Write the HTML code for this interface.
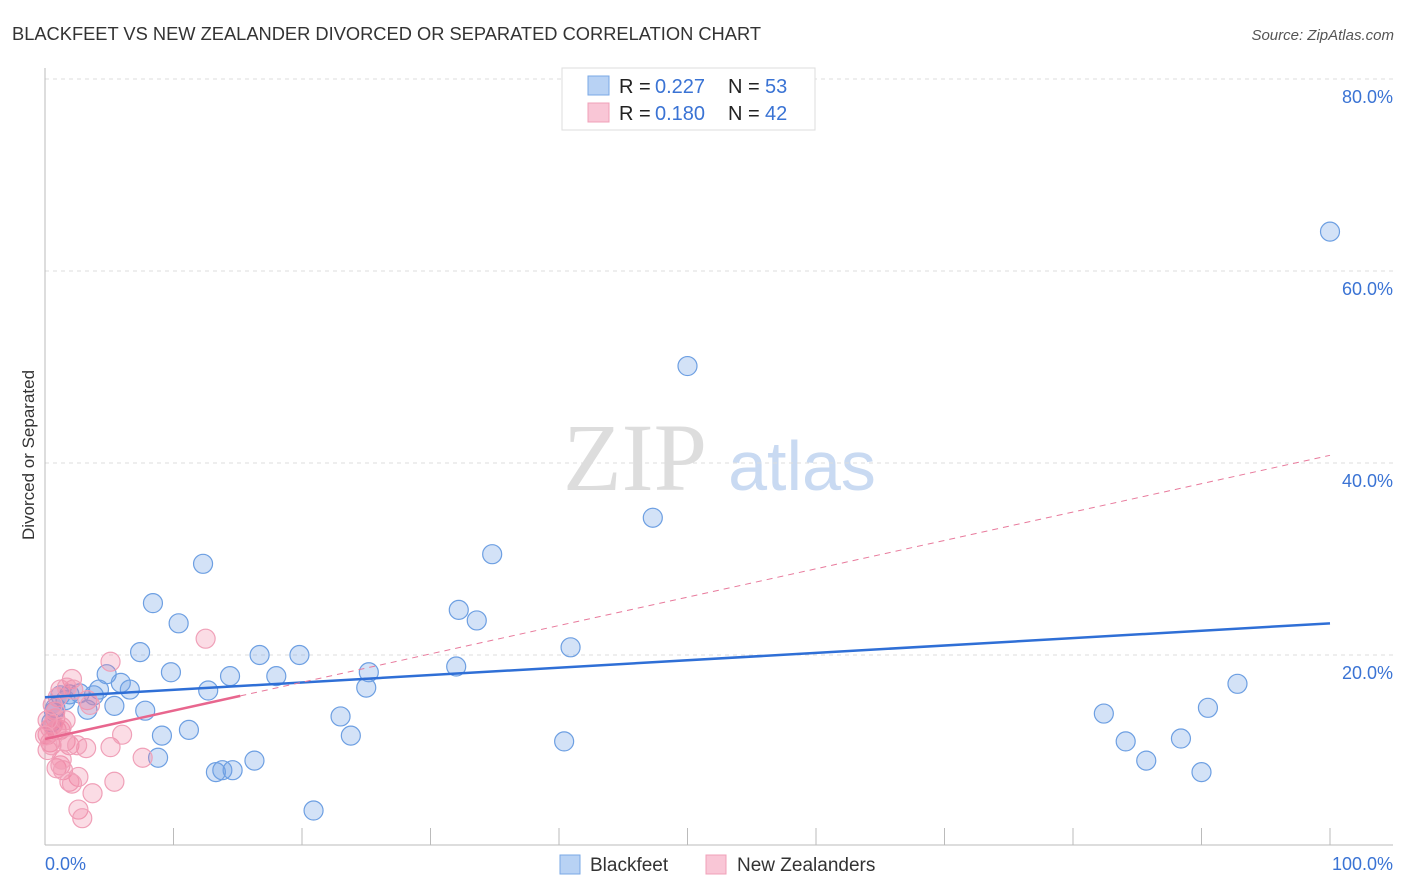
<!DOCTYPE html>
<html><head><meta charset="utf-8"><style>
body{margin:0;background:#fff;font-family:"Liberation Sans",sans-serif;}
svg{display:block}
</style></head><body>
<svg id="chart" width="1406" height="892" xmlns="http://www.w3.org/2000/svg">
<text x="12" y="40" font-size="18.3" fill="#333">BLACKFEET VS NEW ZEALANDER DIVORCED OR SEPARATED CORRELATION CHART</text>
<text x="1394" y="40" font-size="15" fill="#555" font-style="italic" text-anchor="end">Source: ZipAtlas.com</text>
<text x="34" y="455" font-size="17" fill="#333" text-anchor="middle" transform="rotate(-90 34 455)">Divorced or Separated</text>
<g>
<text x="635" y="490" font-size="96" font-family="Liberation Serif,serif" fill="#ddd" text-anchor="middle">ZIP</text>
<text x="802" y="490" font-size="70" fill="#c9daf2" text-anchor="middle">atlas</text>
</g>
<g id="grid"></g>
<g id="axes"></g>
<g id="points"></g>
<g id="trends"></g>
<g>
<rect x="562" y="68" width="253" height="62" fill="#fff" stroke="#ddd"/>
<rect x="588" y="76" width="21" height="19" fill="#b8d2f4" stroke="#7aa8e6"/>
<rect x="588" y="103" width="21" height="19" fill="#f9c6d6" stroke="#f0a0b8"/>
<text x="619" y="93" font-size="20" fill="#222">R =</text>
<text x="655" y="93" font-size="20" fill="#3a73d4">0.227</text>
<text x="728" y="93" font-size="20" fill="#222">N =</text>
<text x="765" y="93" font-size="20" fill="#3a73d4">53</text>
<text x="619" y="120" font-size="20" fill="#222">R =</text>
<text x="655" y="120" font-size="20" fill="#3a73d4">0.180</text>
<text x="728" y="120" font-size="20" fill="#222">N =</text>
<text x="765" y="120" font-size="20" fill="#3a73d4">42</text>
</g>
<g>
<rect x="560" y="855" width="20" height="19" fill="#b8d2f4" stroke="#7aa8e6"/>
<text x="590" y="871" font-size="19" fill="#333">Blackfeet</text>
<rect x="706" y="855" width="20" height="19" fill="#f9c6d6" stroke="#f0a0b8"/>
<text x="737" y="871" font-size="19" fill="#333">New Zealanders</text>
</g>
</svg>
<script>
const yTicks=[20,40,60,80];
const yTickLabels=["20.0%","40.0%","60.0%","80.0%"];
const xEndLabels=["0.0%","100.0%"];
const blueX=[8.4,12.3,10.4,7.4,9.8,4.8,5.9,6.6,4.2,1.9,2.7,3.8,0.8,3.3,5.4,7.8,12.7,14.4,16.7,18.0,19.8,25.2,25.0,9.1,11.2,8.8,13.3,13.8,14.6,16.3,20.9,23.0,23.8,32.2,33.6,34.8,32.0,40.9,40.4,47.3,50.0,100,82.4,84.1,85.7,88.4,90.5,92.8,90.0,0.7,0.5,1.2,1.6];
const blueY=[25.4,29.5,23.3,20.3,18.2,18.0,17.1,16.4,16.4,15.9,16.0,15.8,14.5,14.3,14.7,14.2,16.3,17.8,20.0,17.8,20.0,18.2,16.6,11.6,12.2,9.3,7.8,8.0,8.0,9.0,3.8,13.6,11.6,24.7,23.6,30.5,18.8,20.8,11.0,34.3,50.1,64.1,13.9,11.0,9.0,11.3,14.5,17.0,7.8,14.1,13.0,15.8,15.3];
const pinkX=[5.1,12.5,2.1,1.2,1.0,3.3,0.8,0.6,0.9,0.2,0.4,0.2,0.5,1.2,1.6,1.9,3.2,2.5,5.1,6.0,7.6,0.9,1.2,1.4,2.6,1.9,2.1,5.4,3.7,2.6,2.9,1.3,0.4,0.8,1.6,1.3,0.2,0.6,2.2,1.7,3.5,0];
const pinkY=[19.3,21.7,17.5,16.4,15.6,15.3,13.4,12.7,12.2,11.7,10.9,10.1,10.6,12.2,11.0,10.6,10.3,10.6,10.4,11.7,9.3,8.2,8.5,8.0,7.3,6.8,6.6,6.8,5.6,3.9,3.0,9.1,12.4,14.1,13.2,12.5,13.2,14.8,16.4,16.6,14.8,11.6];
const blueTrend=[15.6,23.3];
const pinkTrend=[11.25,40.8];
const pinkSolidEnd=15.2;

const NS="http://www.w3.org/2000/svg";
const X0=45,X1=1330,Y0=847,PPY=9.6;
const sx=v=>X0+(X1-X0)*v/100;
const sy=v=>Y0-v*PPY;
function mk(tag,attrs,parent){const e=document.createElementNS(NS,tag);for(const k in attrs)e.setAttribute(k,attrs[k]);parent.appendChild(e);return e;}
const grid=document.getElementById('grid');
yTicks.forEach((t,i)=>{
 const l=mk('line',{x1:45,x2:1393,y1:sy(t),y2:sy(t),stroke:'#ddd','stroke-dasharray':'4,4'},grid);
 
 
 const tx=mk('text',{x:1393,y:sy(t)+24,'font-size':18,fill:'#3a73d4','text-anchor':'end'},grid);
 tx.textContent=yTickLabels[i];
 
 
});
const axes=document.getElementById('axes');
const ya=mk('line',{x1:45,x2:45,y1:68,y2:845,stroke:'#bbb'},axes);


const xa=mk('line',{x1:45,x2:1393,y1:845,y2:845,stroke:'#bbb'},axes);


for(let i=0;i<=10;i++){
 const t=mk('line',{x1:sx(i*10),x2:sx(i*10),y1:828,y2:845,stroke:'#bbb'},axes);
 
 
}
const xl0=mk('text',{x:45,y:870,'font-size':18,fill:'#3a73d4'},axes);xl0.textContent=xEndLabels[0];


const xl1=mk('text',{x:1393,y:870,'font-size':18,fill:'#3a73d4','text-anchor':'end'},axes);xl1.textContent=xEndLabels[1];


const pts=document.getElementById('points');
blueX.forEach((v,i)=>{
 const c=mk('circle',{cx:sx(v),cy:sy(blueY[i]),r:9.5,fill:'rgba(110,160,230,0.3)',stroke:'#6d9fe2','stroke-width':1.2},pts);
 
 
});
pinkX.forEach((v,i)=>{
 const c=mk('circle',{cx:sx(v),cy:sy(pinkY[i]),r:9.5,fill:'rgba(240,130,160,0.28)',stroke:'#f0a0b8','stroke-width':1.2},pts);
 
 
});
const tr=document.getElementById('trends');
const bl=mk('line',{x1:sx(0),y1:sy(blueTrend[0]),x2:sx(100),y2:sy(blueTrend[1]),stroke:'#2f6fd6','stroke-width':2.5},tr);


const pAt=x=>pinkTrend[0]+(pinkTrend[1]-pinkTrend[0])*x/100;
const pd=mk('line',{x1:sx(pinkSolidEnd),y1:sy(pAt(pinkSolidEnd)),x2:sx(100),y2:sy(pinkTrend[1]),stroke:'#e87a9c','stroke-width':1,'stroke-dasharray':'6,5'},tr);


const ps=mk('line',{x1:sx(0),y1:sy(pinkTrend[0]),x2:sx(pinkSolidEnd),y2:sy(pAt(pinkSolidEnd)),stroke:'#e8668e','stroke-width':2.5},tr);


</script>
</body></html>
